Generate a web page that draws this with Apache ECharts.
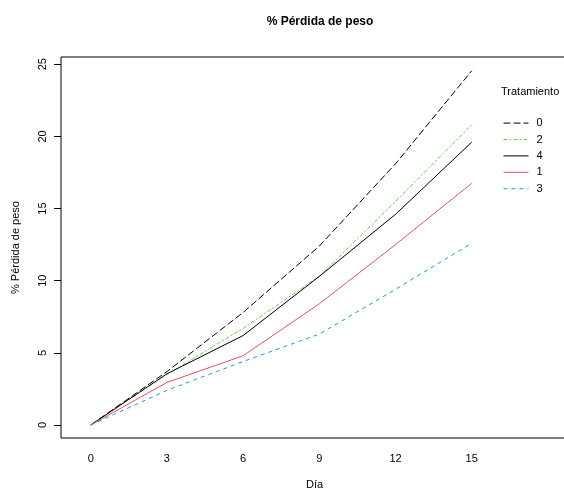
<!DOCTYPE html>
<html>
<head>
<meta charset="utf-8">
<script src="https://cdn.jsdelivr.net/npm/echarts@6/dist/echarts.min.js"></script>
<style>
  html, body { margin: 0; padding: 0; background: #fff; }
  #chart { width: 564px; height: 491px; }
</style>
</head>
<body>
<div id="chart"></div>
<script>
// Days of measurement
const days = [0, 3, 6, 9, 12, 15];

// Percent weight loss per treatment
const trat0 = [0, 3.7, 7.8, 12.4, 18.1, 24.55];
const trat2 = [0, 3.5, 6.7, 10.3, 15.5, 20.8];
const trat4 = [0, 3.55, 6.2, 10.3, 14.6, 19.6];
const trat1 = [0, 2.95, 4.8, 8.4, 12.5, 16.75];
const trat3 = [0, 2.4, 4.4, 6.3, 9.4, 12.6];

// Tick labels
const xTicks = [0, 3, 6, 9, 12, 15];
const yTicks = [0, 5, 10, 15, 20, 25];

const FONT = '"Liberation Sans", Arial, Helvetica, sans-serif';

function pairs(vals) {
  return days.map((d, i) => [d, vals[i]]);
}

function lineSeries(name, vals, color, dash) {
  return {
    name: name,
    type: 'line',
    data: pairs(vals),
    symbol: 'none',
    showSymbol: false,
    silent: true,
    animation: false,
    lineStyle: { color: color, width: 1, type: dash },
    itemStyle: { color: color }
  };
}

const chart = echarts.init(document.getElementById('chart'), null, { renderer: 'canvas' });

chart.setOption({
  animation: false,
  backgroundColor: '#fff',
  textStyle: { fontFamily: FONT, color: '#000' },
  title: [
    {
      text: '% Pérdida de peso',
      left: 315, top: 11, textAlign: 'center',
      textStyle: { fontFamily: FONT, fontSize: 12, fontWeight: 'bold', color: '#000' }
    },
    {
      text: 'Tratamiento',
      left: 496, top: 81,
      textStyle: { fontFamily: FONT, fontSize: 11, fontWeight: 'normal', color: '#000' }
    }
  ],
  legend: {
    orient: 'vertical',
    left: 503, top: 117.5,
    padding: 0,
    itemWidth: 25, itemHeight: 14, itemGap: 5.2,
    data: ['0', '2', '4', '1', '3'],
    itemStyle: { opacity: 0 },
    lineStyle: { width: 1 },
    textStyle: { fontFamily: FONT, fontSize: 11, color: '#000', padding: [0, 0, 0, 3] },
    selectedMode: false
  },
  grid: {
    left: 61, top: 57, right: -4, bottom: 53,
    show: true, borderColor: '#000', borderWidth: 1,
    containLabel: false,
    outerBoundsMode: 'none'
  },
  xAxis: {
    type: 'value',
    min: -1.17, max: 18.79,
    name: 'Día',
    nameLocation: 'middle',
    nameGap: 41,
    nameTextStyle: { fontFamily: FONT, fontSize: 11, color: '#000' },
    axisLine: { show: false, onZero: false },
    axisTick: { show: false },
    splitLine: { show: false },
    axisLabel: {
      customValues: xTicks,
      margin: 15,
      fontFamily: FONT, fontSize: 11, color: '#000'
    }
  },
  yAxis: {
    type: 'value',
    min: -0.9, max: 25.5,
    name: '% Pérdida de peso',
    nameLocation: 'middle',
    nameGap: 40,
    nameRotate: 90,
    nameTextStyle: { fontFamily: FONT, fontSize: 11, color: '#000' },
    axisLine: { show: false, onZero: false },
    axisTick: {
      show: true, customValues: yTicks, length: 7, inside: false,
      lineStyle: { color: '#000', width: 1 }
    },
    splitLine: { show: false },
    axisLabel: {
      customValues: yTicks,
      rotate: 90,
      margin: 13,
      fontFamily: FONT, fontSize: 11, color: '#000'
    }
  },
  series: [
    lineSeries('0', trat0, '#000000', [7, 3]),
    lineSeries('2', trat2, '#61D04F', [4, 2, 2, 2]),
    lineSeries('4', trat4, '#000000', 'solid'),
    lineSeries('1', trat1, '#DF536B', 'solid'),
    lineSeries('3', trat3, '#2297E6', [4, 4])
  ]
});
</script>
</body>
</html>
